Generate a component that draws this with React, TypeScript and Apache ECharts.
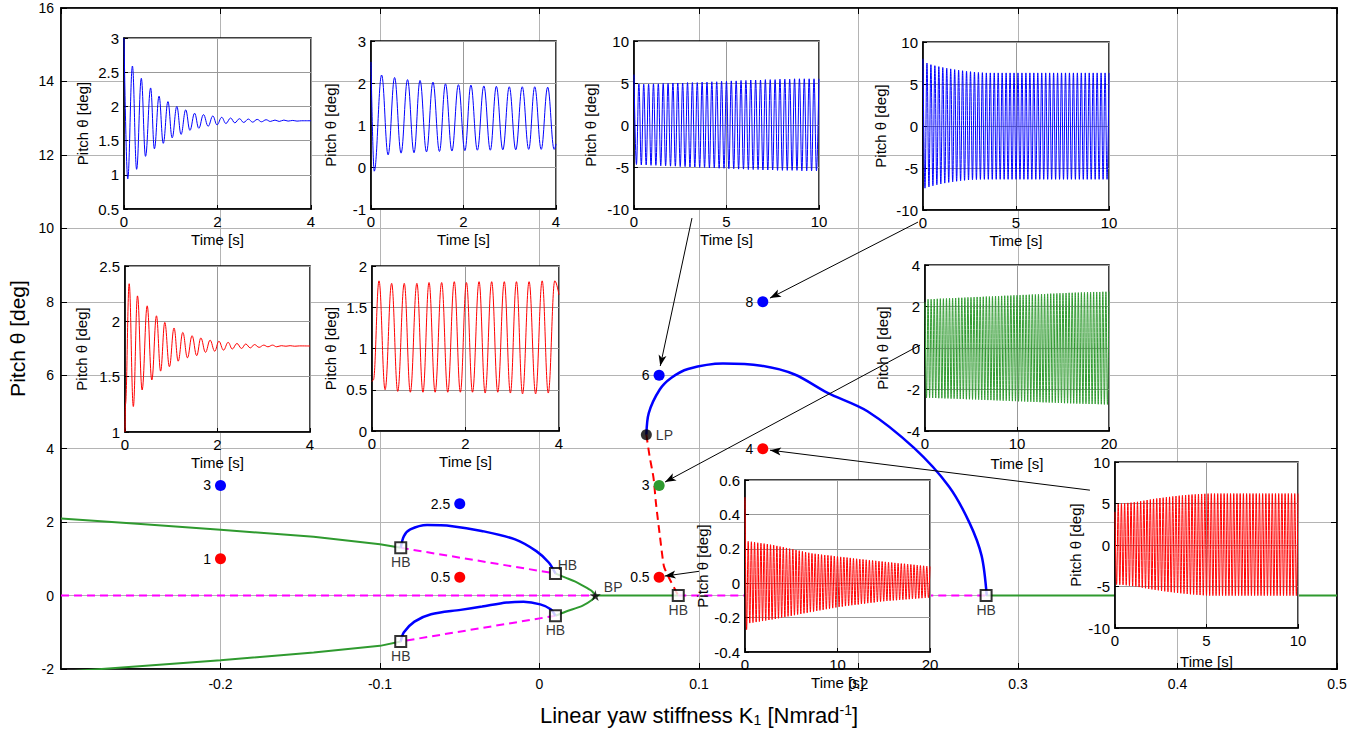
import React, { useEffect, useRef } from 'react';
import * as echarts from 'echarts';

const FONT = '"Liberation Sans", Arial, Helvetica, sans-serif';
const BLUE = '#0000ff';
const RED = '#ff0000';
const GREEN = '#2f9a2f';
const MAGENTA = '#ff00ff';

// ---------- main bifurcation diagram (K1, pitch) ----------
const greenUpperBranch = [[-0.3, 2.1], [-0.25, 1.95], [-0.2, 1.79], [-0.1416, 1.6], [-0.1, 1.4], [-0.087, 1.3]];
const magentaUpperBranch = [[-0.087, 1.3], [0.01, 0.6]];
const greenToBP = [[0.01, 0.6], [0.0163, 0.49], [0.0225, 0.38], [0.0268, 0.28], [0.0326, 0.13], [0.035, 0]];
const greenFromBP = [[0.035, 0], [0.0326, -0.13], [0.0268, -0.28], [0.0163, -0.44], [0.01, -0.55]];
const magentaLowerBranch = [[0.01, -0.55], [-0.087, -1.25]];
const greenLowerBranch = [[-0.087, -1.25], [-0.1, -1.37], [-0.1416, -1.55], [-0.2, -1.76], [-0.2745, -2.0], [-0.3, -2.08]];
const magentaZeroLeft = [[-0.3, 0], [0.035, 0]];
const greenZeroMid = [[0.035, 0], [0.087, 0]];
const magentaZeroRight = [[0.087, 0], [0.28, 0]];
const greenZeroRight = [[0.28, 0], [0.5, 0]];
const blueUpperOrbit = [[-0.087, 1.3], [-0.085, 1.62], [-0.081, 1.8], [-0.0705, 1.92], [-0.0547, 1.89], [-0.0363, 1.76], [-0.0153, 1.53], [-0.002, 1.21], [0.0058, 0.9], [0.01, 0.6]];
const blueLowerOrbit = [[-0.087, -1.25], [-0.085, -1.0], [-0.0784, -0.71], [-0.068, -0.51], [-0.0495, -0.39], [-0.036, -0.3], [-0.0205, -0.19], [-0.01, -0.17], [0.0005, -0.24], [0.007, -0.37], [0.01, -0.55]];
const blueLargeOrbit = [[0.067, 4.38], [0.0685, 4.97], [0.0754, 5.61], [0.0827, 5.93], [0.0931, 6.17], [0.115, 6.32], [0.139, 6.26], [0.16, 6.02], [0.1806, 5.52], [0.2056, 5.02], [0.2348, 4.02], [0.2567, 2.97], [0.2696, 1.98], [0.2772, 1.08], [0.2804, 0]];
const redUnstableOrbit = [[0.067, 4.38], [0.069, 3.8], [0.0715, 3.2], [0.073, 2.52], [0.0755, 1.62], [0.078, 0.8], [0.081, 0.5], [0.087, 0]];

const blueDots = [[-0.2, 3], [-0.05, 2.5], [0.075, 6], [0.14, 8]];
const blueDotLabels = ['3', '2.5', '6', '8'];
const redDots = [[-0.2, 1], [-0.05, 0.5], [0.075, 0.5], [0.14, 4]];
const redDotLabels = ['1', '0.5', '0.5', '4'];
const greenDots = [[0.075, 3]];
const greenDotLabels = ['3'];
const lpPoint = [[0.067, 4.38]];
const bpPoint = [[0.035, 0]];
const hbPoints = [[-0.087, 1.3], [0.01, 0.6], [0.01, -0.55], [-0.087, -1.25], [0.087, 0], [0.28, 0]];

// arrows from insets to the simulated points: [from, to]
const arrows = [
  [[0.0956, 10.28], [0.0757, 6.25]],
  [[0.2373, 10.17], [0.1445, 8.1]],
  [[0.2386, 6.82], [0.0787, 3.09]],
  [[0.3451, 2.87], [0.1445, 3.96]],
  [[0.1, 0.66], [0.0785, 0.53]],
];

// ---------- inset time histories ----------
// damped / periodic ones: explicit [time, pitch] extrema
const ins1Points = [[0, 3.0], [0.08, 0.94], [0.18, 2.59], [0.27, 1.08], [0.37, 2.41], [0.46, 1.27], [0.57, 2.27], [0.65, 1.38], [0.75, 2.15], [0.84, 1.46], [0.94, 2.07], [1.03, 1.54], [1.13, 2.0], [1.22, 1.59], [1.32, 1.95], [1.41, 1.65], [1.51, 1.9], [1.6, 1.68], [1.7, 1.88], [1.8, 1.71], [1.9, 1.86], [1.99, 1.73], [2.09, 1.84], [2.18, 1.75], [2.28, 1.83], [2.37, 1.76], [2.47, 1.82], [2.56, 1.765], [2.66, 1.815], [2.75, 1.77], [2.85, 1.81], [2.94, 1.775], [3.04, 1.805], [3.13, 1.78], [3.23, 1.8], [3.32, 1.78], [3.42, 1.8], [3.51, 1.785], [3.61, 1.795], [3.7, 1.785], [3.8, 1.79], [4.0, 1.79]];
const ins2Points = [[0, 2.5], [0.07, -0.1], [0.23, 2.19], [0.37, 0.29], [0.51, 2.13], [0.65, 0.33], [0.79, 2.08], [0.93, 0.34], [1.06, 2.06], [1.2, 0.36], [1.34, 2.02], [1.48, 0.37], [1.61, 1.98], [1.75, 0.38], [1.89, 1.96], [2.03, 0.39], [2.16, 1.95], [2.3, 0.4], [2.44, 1.93], [2.58, 0.4], [2.71, 1.92], [2.85, 0.41], [2.99, 1.91], [3.13, 0.41], [3.27, 1.91], [3.41, 0.42], [3.54, 1.91], [3.68, 0.42], [3.82, 1.9], [3.96, 0.42], [4.0, 0.55]];
const ins5Points = [[0, 1.0], [0.01, 1.25], [0.09, 2.34], [0.18, 1.23], [0.27, 2.23], [0.37, 1.38], [0.48, 2.14], [0.58, 1.47], [0.68, 2.05], [0.77, 1.55], [0.86, 1.99], [0.96, 1.59], [1.06, 1.94], [1.15, 1.64], [1.25, 1.9], [1.35, 1.67], [1.45, 1.87], [1.55, 1.69], [1.64, 1.85], [1.74, 1.72], [1.84, 1.83], [1.94, 1.73], [2.03, 1.82], [2.13, 1.74], [2.23, 1.81], [2.32, 1.75], [2.42, 1.8], [2.52, 1.755], [2.61, 1.795], [2.71, 1.76], [2.8, 1.79], [2.9, 1.765], [3.0, 1.785], [3.09, 1.77], [3.19, 1.785], [3.28, 1.77], [3.38, 1.78], [3.48, 1.775], [3.57, 1.78], [3.67, 1.775], [3.77, 1.778], [4.0, 1.777]];
const ins6Points = [[0, 0.6], [0.03, 0.62], [0.15, 1.82], [0.28, 0.5], [0.42, 1.79], [0.55, 0.48], [0.69, 1.79], [0.82, 0.47], [0.96, 1.79], [1.09, 0.47], [1.22, 1.8], [1.35, 0.47], [1.49, 1.8], [1.62, 0.47], [1.76, 1.81], [1.89, 0.47], [2.02, 1.8], [2.15, 0.47], [2.29, 1.81], [2.42, 0.46], [2.56, 1.81], [2.69, 0.47], [2.83, 1.81], [2.96, 0.46], [3.09, 1.81], [3.22, 0.45], [3.36, 1.81], [3.5, 0.45], [3.64, 1.82], [3.77, 0.46], [3.91, 1.82], [4.0, 1.65]];

// dense oscillations: start value, period, per-cycle trough and peak values
const ins3Start = 6.0;
const ins3Period = 0.263;
const ins3Troughs = [-4.7, -4.75, -4.75, -4.8, -4.8, -4.85, -4.85, -4.9, -4.9, -4.95, -4.95, -5.0, -5.0, -5.05, -5.05, -5.1, -5.1, -5.15, -5.15, -5.2, -5.2, -5.25, -5.25, -5.3, -5.3, -5.3, -5.35, -5.35, -5.35, -5.4, -5.4, -5.4, -5.4, -5.4, -5.45, -5.45, -5.45, -5.45];
const ins3Peaks = [4.9, 4.85, 4.85, 4.9, 4.9, 4.95, 4.95, 5.0, 5.0, 5.0, 5.05, 5.05, 5.05, 5.1, 5.1, 5.15, 5.15, 5.2, 5.2, 5.25, 5.25, 5.3, 5.3, 5.35, 5.35, 5.35, 5.4, 5.4, 5.4, 5.45, 5.45, 5.45, 5.5, 5.5, 5.5, 5.5, 5.5, 5.5];

const ins4Start = 8.0;
const ins4Period = 0.2128;
const ins4Troughs = [-7.4, -7.25, -7.12, -7.0, -6.9, -6.8, -6.72, -6.65, -6.58, -6.52, -6.47, -6.43, -6.4, -6.38, -6.36, -6.35, -6.35, -6.35, -6.35, -6.35, -6.35, -6.35, -6.35, -6.35, -6.35, -6.35, -6.35, -6.35, -6.35, -6.35, -6.35, -6.35, -6.35, -6.35, -6.35, -6.35, -6.35, -6.35, -6.35, -6.35, -6.35, -6.35, -6.35, -6.35, -6.35, -6.35, -6.35];
const ins4Peaks = [7.5, 7.3, 7.18, 7.07, 6.97, 6.88, 6.8, 6.72, 6.65, 6.58, 6.52, 6.47, 6.42, 6.38, 6.35, 6.32, 6.32, 6.32, 6.32, 6.32, 6.32, 6.32, 6.32, 6.32, 6.32, 6.32, 6.32, 6.32, 6.32, 6.32, 6.32, 6.32, 6.32, 6.32, 6.32, 6.32, 6.32, 6.32, 6.32, 6.32, 6.32, 6.32, 6.32, 6.32, 6.32, 6.32, 6.32];

const ins7Start = 2.2;
const ins7Period = 0.3333;
const ins7Troughs = [-2.4, -2.4, -2.41, -2.41, -2.42, -2.42, -2.43, -2.43, -2.44, -2.44, -2.45, -2.46, -2.46, -2.47, -2.47, -2.48, -2.48, -2.49, -2.5, -2.5, -2.51, -2.51, -2.52, -2.53, -2.53, -2.54, -2.54, -2.55, -2.56, -2.56, -2.57, -2.57, -2.58, -2.59, -2.59, -2.6, -2.6, -2.61, -2.62, -2.62, -2.63, -2.63, -2.64, -2.65, -2.65, -2.66, -2.66, -2.67, -2.67, -2.68, -2.68, -2.69, -2.69, -2.7, -2.7, -2.7, -2.71, -2.71, -2.72, -2.72];
const ins7Peaks = [2.35, 2.35, 2.36, 2.37, 2.38, 2.38, 2.39, 2.4, 2.4, 2.41, 2.42, 2.42, 2.43, 2.44, 2.44, 2.45, 2.46, 2.46, 2.47, 2.48, 2.48, 2.49, 2.5, 2.5, 2.51, 2.52, 2.52, 2.53, 2.54, 2.54, 2.55, 2.56, 2.56, 2.57, 2.58, 2.58, 2.59, 2.6, 2.6, 2.61, 2.62, 2.62, 2.63, 2.64, 2.64, 2.65, 2.66, 2.66, 2.67, 2.67, 2.68, 2.68, 2.69, 2.69, 2.7, 2.7, 2.7, 2.71, 2.71, 2.72];

const ins8Start = 0.5;
const ins8Period = 0.3448;
const ins8Troughs = [-0.27, -0.232, -0.229, -0.226, -0.223, -0.22, -0.217, -0.214, -0.211, -0.208, -0.204, -0.2, -0.197, -0.193, -0.19, -0.186, -0.182, -0.179, -0.175, -0.172, -0.168, -0.165, -0.161, -0.158, -0.155, -0.151, -0.148, -0.145, -0.141, -0.138, -0.136, -0.133, -0.131, -0.128, -0.126, -0.124, -0.121, -0.119, -0.116, -0.114, -0.112, -0.109, -0.107, -0.105, -0.103, -0.102, -0.1, -0.099, -0.097, -0.096, -0.094, -0.093, -0.091, -0.09, -0.088, -0.087, -0.085, -0.084];
const ins8Peaks = [0.243, 0.241, 0.238, 0.235, 0.232, 0.23, 0.227, 0.224, 0.221, 0.217, 0.213, 0.209, 0.205, 0.201, 0.197, 0.193, 0.189, 0.185, 0.181, 0.177, 0.173, 0.171, 0.169, 0.166, 0.164, 0.162, 0.16, 0.158, 0.155, 0.153, 0.151, 0.149, 0.147, 0.144, 0.142, 0.14, 0.138, 0.136, 0.134, 0.132, 0.13, 0.128, 0.126, 0.124, 0.122, 0.12, 0.118, 0.116, 0.114, 0.113, 0.111, 0.109, 0.107, 0.105, 0.103, 0.101, 0.099, 0.097];

const ins9Start = 4.0;
const ins9Period = 0.1754;
const ins9Troughs = [-4.76, -4.78, -4.8, -4.85, -4.9, -4.95, -5.0, -5.07, -5.14, -5.21, -5.28, -5.35, -5.4, -5.46, -5.52, -5.58, -5.63, -5.68, -5.73, -5.78, -5.82, -5.86, -5.9, -5.94, -5.97, -6.0, -6.03, -6.06, -6.08, -6.1, -6.1, -6.1, -6.1, -6.1, -6.1, -6.1, -6.1, -6.1, -6.1, -6.1, -6.1, -6.1, -6.1, -6.1, -6.1, -6.1, -6.1, -6.1, -6.1, -6.1, -6.1, -6.1, -6.1, -6.1, -6.1, -6.1, -6.1];
const ins9Peaks = [4.96, 5.0, 5.03, 5.07, 5.1, 5.15, 5.2, 5.27, 5.34, 5.41, 5.48, 5.55, 5.6, 5.65, 5.7, 5.75, 5.8, 5.85, 5.9, 5.94, 5.98, 6.02, 6.05, 6.08, 6.1, 6.13, 6.15, 6.17, 6.19, 6.2, 6.2, 6.2, 6.2, 6.2, 6.2, 6.2, 6.2, 6.2, 6.2, 6.2, 6.2, 6.2, 6.2, 6.2, 6.2, 6.2, 6.2, 6.2, 6.2, 6.2, 6.2, 6.2, 6.2, 6.2, 6.2, 6.2, 6.2];

function oscillation(start: number, period: number, troughs: number[], peaks: number[]) {
  const half = period / 2;
  const out: number[][] = [[0, start]];
  for (let k = 0; k < troughs.length; k++) {
    out.push([(2 * k + 1) * half, troughs[k]]);
    out.push([(2 * k + 2) * half, peaks[k]]);
  }
  return out;
}

// inset axes: [min, max, interval]
const insetAxes = [
  { x: [0, 4, 2], y: [0.5, 3, 0.5] },
  { x: [0, 4, 2], y: [-1, 3, 1] },
  { x: [0, 10, 5], y: [-10, 10, 5] },
  { x: [0, 10, 5], y: [-10, 10, 5] },
  { x: [0, 4, 2], y: [1, 2.5, 0.5] },
  { x: [0, 4, 2], y: [0, 2, 0.5] },
  { x: [0, 20, 10], y: [-4, 4, 2] },
  { x: [0, 20, 10], y: [-0.4, 0.6, 0.2] },
  { x: [0, 10, 5], y: [-10, 10, 5] },
];
const insetColors = [BLUE, BLUE, BLUE, BLUE, RED, RED, GREEN, RED, RED];
// layout (pixels)
const insetBoxes = [
  { left: 124, top: 38, width: 187, height: 171, yGap: 34, xGap: 23 },
  { left: 371, top: 41, width: 185, height: 168, yGap: 33, xGap: 23 },
  { left: 634, top: 41, width: 185, height: 168, yGap: 36, xGap: 23 },
  { left: 923, top: 42, width: 186, height: 168, yGap: 35, xGap: 23 },
  { left: 125, top: 266, width: 185, height: 166, yGap: 36, xGap: 23 },
  { left: 372, top: 266, width: 187, height: 165, yGap: 34, xGap: 23 },
  { left: 925, top: 265, width: 184, height: 166, yGap: 35, xGap: 25 },
  { left: 745, top: 480, width: 185, height: 172, yGap: 26, xGap: 23 },
  { left: 1115, top: 462, width: 183, height: 166, yGap: 32, xGap: 26 },
];

const fmt = (v: number) => String(Math.round(v * 1000) / 1000);

export default function App() {
  const ref = useRef<HTMLDivElement>(null);
  useEffect(() => {
    if (!ref.current) return;
    const chart = echarts.init(ref.current, undefined, { renderer: 'svg' });

    const insetData = [
      ins1Points,
      ins2Points,
      oscillation(ins3Start, ins3Period, ins3Troughs, ins3Peaks),
      oscillation(ins4Start, ins4Period, ins4Troughs, ins4Peaks),
      ins5Points,
      ins6Points,
      oscillation(ins7Start, ins7Period, ins7Troughs, ins7Peaks),
      oscillation(ins8Start, ins8Period, ins8Troughs, ins8Peaks),
      oscillation(ins9Start, ins9Period, ins9Troughs, ins9Peaks),
    ];

    const grids: any[] = [
      { left: 61, top: 8, width: 1276, height: 661, show: true, borderColor: '#000', borderWidth: 1.5, backgroundColor: 'transparent', outerBoundsMode: 'none', containLabel: false },
    ];
    const xAxes: any[] = [
      {
        type: 'value', gridIndex: 0, min: -0.3, max: 0.5, interval: 0.1,
        axisLine: { onZero: false, lineStyle: { color: '#000', width: 1.5 } },
        axisTick: { inside: true, length: 6, lineStyle: { color: '#000' } },
        axisLabel: { color: '#000', fontSize: 14, fontFamily: FONT, margin: 8, showMinLabel: false, formatter: (v: number) => String(Math.round(v * 10) / 10) },
        splitLine: { show: true, lineStyle: { color: '#b4b4b4', width: 1 } },
        name: '{a|Linear yaw stiffness K}{s|1}{a| [Nmrad}{p|-1}{a|]}',
        nameLocation: 'middle', nameGap: 34,
        nameTextStyle: {
          color: '#000', fontFamily: FONT, fontSize: 22,
          rich: {
            a: { fontSize: 22, fontFamily: FONT, color: '#000', lineHeight: 24 },
            s: { fontSize: 14, fontFamily: FONT, color: '#000', lineHeight: 13, verticalAlign: 'bottom' },
            p: { fontSize: 14, fontFamily: FONT, color: '#000', lineHeight: 13, verticalAlign: 'top' },
          },
        },
      },
      {
        type: 'value', gridIndex: 0, position: 'top', min: -0.3, max: 0.5, interval: 0.1,
        axisLine: { onZero: false, lineStyle: { color: '#000', width: 1.5 } },
        axisTick: { inside: true, length: 6, lineStyle: { color: '#000' } },
        axisLabel: { show: false }, splitLine: { show: false },
      },
    ];
    const yAxes: any[] = [
      {
        type: 'value', gridIndex: 0, min: -2, max: 16, interval: 2,
        axisLine: { onZero: false, lineStyle: { color: '#000', width: 1.5 } },
        axisTick: { inside: true, length: 6, lineStyle: { color: '#000' } },
        axisLabel: { color: '#000', fontSize: 14, fontFamily: FONT, margin: 7 },
        splitLine: { show: true, lineStyle: { color: '#b4b4b4', width: 1 } },
        name: 'Pitch θ [deg]', nameLocation: 'middle', nameGap: 26, nameRotate: 90,
        nameTextStyle: { color: '#000', fontFamily: FONT, fontSize: 21 },
      },
      {
        type: 'value', gridIndex: 0, position: 'right', min: -2, max: 16, interval: 2,
        axisLine: { onZero: false, lineStyle: { color: '#000', width: 1.5 } },
        axisTick: { inside: true, length: 6, lineStyle: { color: '#000' } },
        axisLabel: { show: false }, splitLine: { show: false },
      },
    ];

    const series: any[] = [];

    insetBoxes.forEach((b, i) => {
      const ax = insetAxes[i];
      grids.push({
        left: b.left, top: b.top, width: b.width, height: b.height,
        show: true, backgroundColor: '#ffffff', borderColor: '#000', borderWidth: 1.5, z: 10,
        outerBoundsMode: 'none', containLabel: false,
      });
      xAxes.push({
        type: 'value', gridIndex: i + 1, min: ax.x[0], max: ax.x[1], interval: ax.x[2], z: 11,
        axisLine: { onZero: false, lineStyle: { color: '#000', width: 1.5 } },
        axisTick: { inside: true, length: 4, lineStyle: { color: '#000' } },
        axisLabel: { color: '#000', fontSize: 15, fontFamily: FONT, margin: 5, formatter: fmt },
        splitLine: { show: true, lineStyle: { color: '#999999', width: 1 } },
        name: 'Time [s]', nameLocation: 'middle', nameGap: b.xGap,
        nameTextStyle: { color: '#000', fontFamily: FONT, fontSize: 15 },
      });
      yAxes.push({
        type: 'value', gridIndex: i + 1, min: ax.y[0], max: ax.y[1], interval: ax.y[2], z: 11,
        axisLine: { onZero: false, lineStyle: { color: '#000', width: 1.5 } },
        axisTick: { inside: true, length: 4, lineStyle: { color: '#000' } },
        axisLabel: { color: '#000', fontSize: 15, fontFamily: FONT, margin: 5, formatter: fmt },
        splitLine: { show: true, lineStyle: { color: '#999999', width: 1 } },
        name: 'Pitch θ [deg]', nameLocation: 'middle', nameGap: b.yGap, nameRotate: 90,
        nameTextStyle: { color: '#000', fontFamily: FONT, fontSize: 15 },
      });
      series.push({
        type: 'line', xAxisIndex: i + 2, yAxisIndex: i + 2, data: insetData[i],
        symbol: 'none', smooth: 0.4, smoothMonotone: 'x', silent: true, z: 12,
        lineStyle: { color: insetColors[i], width: 1 },
      });
    });

    const mainLine = (data: number[][], color: string, dashed: boolean, width: number, smooth = 0) => ({
      type: 'line', xAxisIndex: 0, yAxisIndex: 0, data, symbol: 'none', silent: true, z: 2, smooth,
      lineStyle: { color, width, type: dashed ? [8, 5] : 'solid' },
    });

    series.push(
      mainLine(greenUpperBranch, GREEN, false, 2),
      mainLine(greenToBP, GREEN, false, 2, 0.3),
      mainLine(greenFromBP, GREEN, false, 2, 0.3),
      mainLine(greenLowerBranch, GREEN, false, 2),
      mainLine(greenZeroMid, GREEN, false, 2),
      mainLine(greenZeroRight, GREEN, false, 2),
      mainLine(magentaUpperBranch, MAGENTA, true, 2),
      mainLine(magentaLowerBranch, MAGENTA, true, 2),
      mainLine(magentaZeroLeft, MAGENTA, true, 2),
      mainLine(magentaZeroRight, MAGENTA, true, 2),
      mainLine(blueUpperOrbit, BLUE, false, 2.5, 0.3),
      mainLine(blueLowerOrbit, BLUE, false, 2.5, 0.3),
      mainLine(blueLargeOrbit, BLUE, false, 2.5, 0.3),
      mainLine(redUnstableOrbit, RED, true, 2, 0.2),
    );

    const labelStyle = { color: '#000', fontSize: 14, fontFamily: FONT };
    const dots = (pts: number[][], labels: string[], color: string) => ({
      type: 'scatter', xAxisIndex: 0, yAxisIndex: 0, symbol: 'circle', symbolSize: 11, z: 4, silent: true,
      itemStyle: { color, opacity: 1 },
      label: { show: true, position: 'left', distance: 4, ...labelStyle, formatter: (p: any) => labels[p.dataIndex] },
      data: pts,
    });
    series.push(
      dots(blueDots, blueDotLabels, BLUE),
      dots(redDots, redDotLabels, RED),
      dots(greenDots, greenDotLabels, GREEN),
      {
        type: 'scatter', xAxisIndex: 0, yAxisIndex: 0, symbol: 'circle', symbolSize: 11, z: 4, silent: true,
        itemStyle: { color: '#000' },
        label: { show: true, position: 'right', distance: 4, ...labelStyle, formatter: 'LP' },
        data: lpPoint,
      },
      {
        type: 'scatter', xAxisIndex: 0, yAxisIndex: 0, z: 5, silent: true,
        symbol: 'path://M50,0 L61,35 L98,35 L68,57 L79,91 L50,70 L21,91 L32,57 L2,35 L39,35 Z', symbolSize: 11,
        itemStyle: { color: '#000' },
        label: { show: true, position: 'right', distance: 3, offset: [0, -9], ...labelStyle, formatter: 'BP' },
        data: bpPoint,
      },
      {
        type: 'scatter', xAxisIndex: 0, yAxisIndex: 0, symbol: 'rect', symbolSize: 11, z: 5, silent: true,
        itemStyle: { color: '#ffffff', borderColor: '#000', borderWidth: 2 },
        label: { show: true, position: 'bottom', distance: 1, ...labelStyle, formatter: 'HB' },
        data: hbPoints.map((p, i) => (i === 1
          ? { value: p, label: { position: 'top', distance: 2, offset: [12, 7] } }
          : { value: p })),
        markLine: {
          silent: true, symbol: ['none', 'arrow'], symbolSize: [6, 11],
          lineStyle: { color: '#000', width: 1, type: 'solid' },
          label: { show: false },
          data: arrows.map(a => [{ coord: a[0] }, { coord: a[1] }]),
        },
      },
    );

    chart.setOption({
      animation: false,
      backgroundColor: '#ffffff',
      textStyle: { fontFamily: FONT },
      grid: grids,
      xAxis: xAxes,
      yAxis: yAxes,
      series,
    });
    return () => chart.dispose();
  }, []);

  return <div ref={ref} style={{ position: 'absolute', left: 0, top: 0, width: 1363, height: 731, background: '#fff' }} />;
}
